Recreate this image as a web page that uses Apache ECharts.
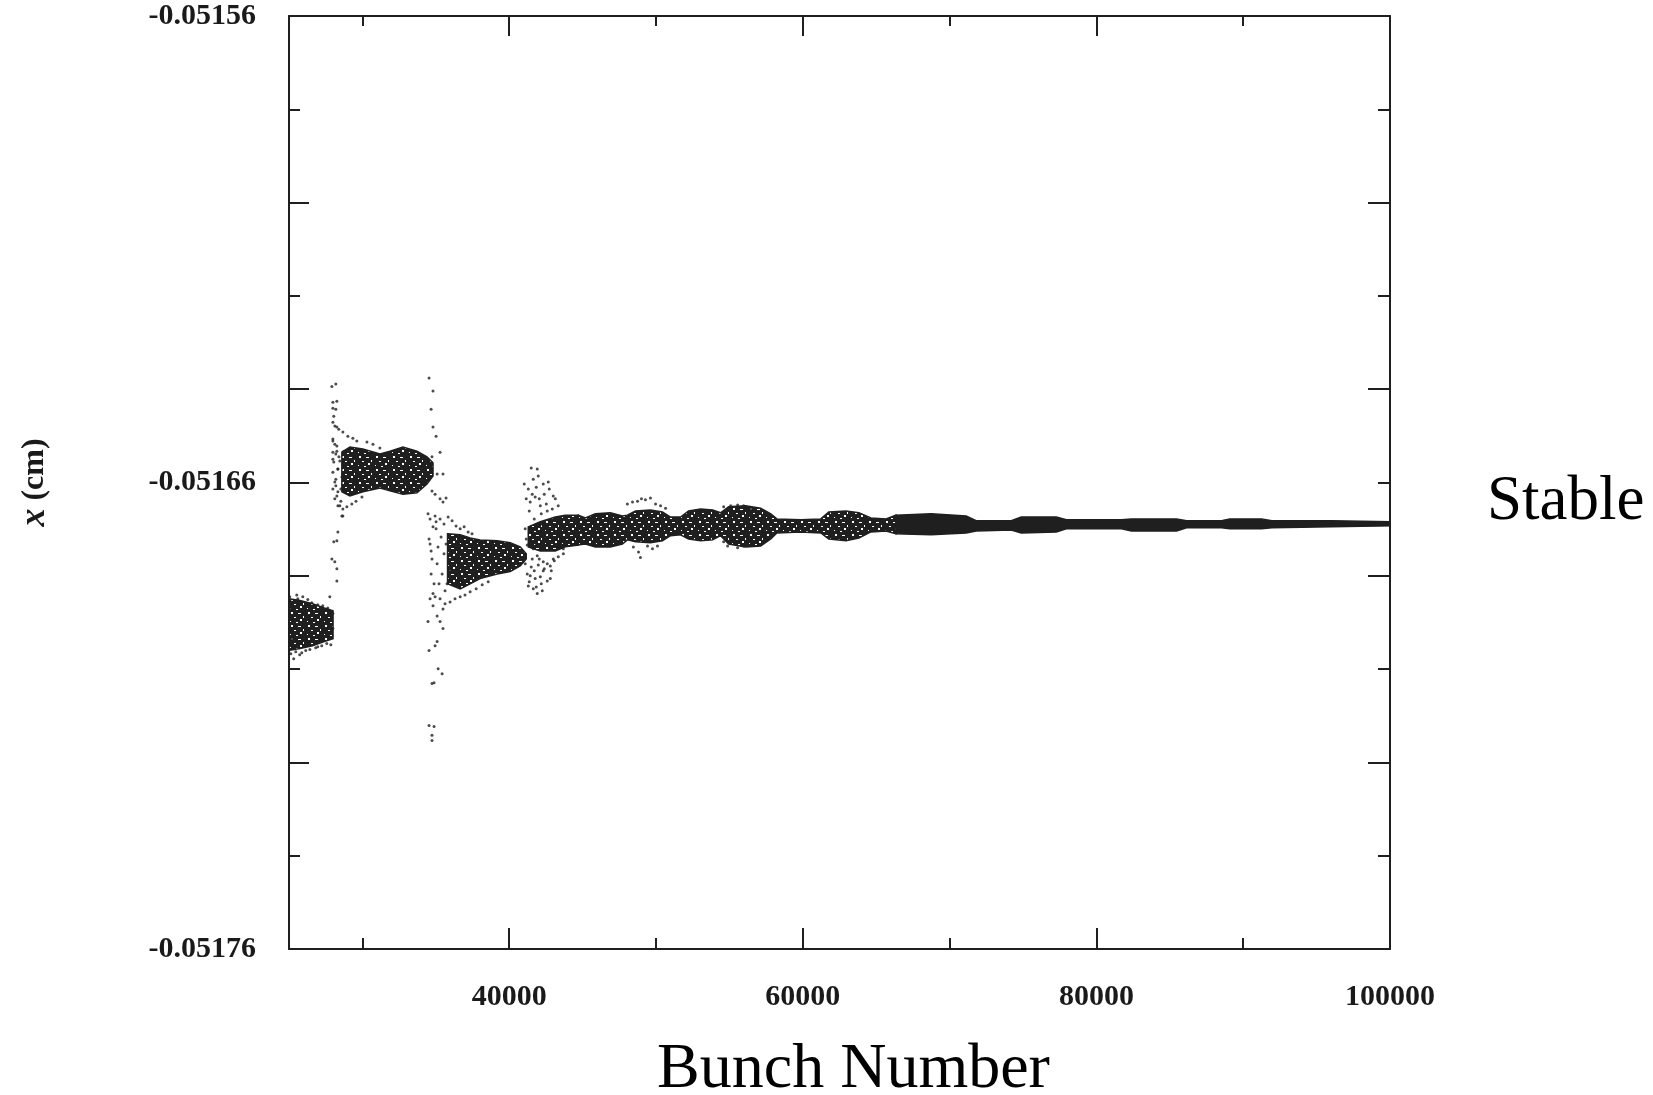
<!DOCTYPE html>
<html>
<head>
<meta charset="utf-8">
<script src="https://cdn.jsdelivr.net/npm/echarts@6/dist/echarts.min.js"></script>
<style>
html,body{margin:0;padding:0;background:#fff;}
#chart{width:1653px;height:1095px;}
</style>
</head>
<body>
<div id="chart"></div>
<script>
// ---- axis ticks / labels ----
const bunchLabels = [40000, 60000, 80000, 100000];
const bunchTicksMajor = [40000, 60000, 80000];
const bunchTicksMinor = [30000, 50000, 70000, 90000];
const posLabels = [-0.05176, -0.05166, -0.05156];
const posTicksMajorLeft = [-0.05172, -0.05168, -0.05166, -0.05164, -0.05160];
const posTicksMinorLeft = [-0.05174, -0.05170, -0.05162, -0.05158];
const posTicksMajorRight = [-0.05172, -0.05168, -0.05164, -0.05160];
const posTicksMinorRight = [-0.05174, -0.05170, -0.05166, -0.05162, -0.05158];

// ---- dense envelopes of the scatter: [bunch, x low (cm), x high (cm)] ----
const bandEarly = [
  [25000, -0.0516960, -0.0516849], [25750, -0.0516956, -0.0516853], [26600, -0.0516950, -0.0516860],
  [27400, -0.0516941, -0.0516869], [28000, -0.0516935, -0.0516875]
];
const bandUpper = [
  [28600, -0.0516620, -0.0516535], [29150, -0.0516629, -0.0516524], [30030, -0.0516620, -0.0516528],
  [31200, -0.0516612, -0.0516539], [31880, -0.0516618, -0.0516533], [32760, -0.0516625, -0.0516524],
  [33720, -0.0516622, -0.0516533], [34400, -0.0516603, -0.0516545], [34810, -0.0516586, -0.0516558]
];
const bandLower = [
  [35800, -0.0516817, -0.0516710], [36660, -0.0516828, -0.0516712], [37340, -0.0516817, -0.0516719],
  [38020, -0.0516806, -0.0516723], [39180, -0.0516796, -0.0516725], [40070, -0.0516791, -0.0516729],
  [40750, -0.0516779, -0.0516738], [41160, -0.0516764, -0.0516753]
];
const bandBurst = [
  [41300, -0.0516738, -0.0516695], [42120, -0.0516747, -0.0516684], [43140, -0.0516747, -0.0516674],
  [43820, -0.0516738, -0.0516670], [44710, -0.0516734, -0.0516670]
];
const bandSettling = [
  [44710, -0.0516734, -0.0516670], [45190, -0.0516732, -0.0516676], [45870, -0.0516738, -0.0516667],
  [46890, -0.0516738, -0.0516665], [47710, -0.0516732, -0.0516672], [48050, -0.0516723, -0.0516670],
  [48600, -0.0516727, -0.0516661], [49620, -0.0516729, -0.0516659], [50440, -0.0516725, -0.0516663],
  [50990, -0.0516714, -0.0516674], [51670, -0.0516712, -0.0516674], [52220, -0.0516721, -0.0516661],
  [53040, -0.0516725, -0.0516657], [53860, -0.0516723, -0.0516659], [54400, -0.0516714, -0.0516665],
  [54950, -0.0516732, -0.0516652], [56110, -0.0516738, -0.0516650], [57130, -0.0516736, -0.0516655],
  [57820, -0.0516721, -0.0516667], [58230, -0.0516708, -0.0516678], [59860, -0.0516706, -0.0516680],
  [61230, -0.0516708, -0.0516678], [61770, -0.0516721, -0.0516663], [62940, -0.0516725, -0.0516661],
  [63820, -0.0516719, -0.0516665], [64640, -0.0516706, -0.0516676], [65670, -0.0516704, -0.0516678],
  [66350, -0.0516710, -0.0516670]
];
const bandStable = [
  [66350, -0.0516710, -0.0516670], [68740, -0.0516712, -0.0516667], [71130, -0.0516708, -0.0516672],
  [71810, -0.0516704, -0.0516682], [74200, -0.0516702, -0.0516682], [74880, -0.0516708, -0.0516674],
  [77270, -0.0516706, -0.0516674], [77950, -0.0516699, -0.0516680], [81710, -0.0516699, -0.0516680],
  [82390, -0.0516704, -0.0516678], [85460, -0.0516704, -0.0516678], [86140, -0.0516697, -0.0516682],
  [88530, -0.0516697, -0.0516682], [89080, -0.0516699, -0.0516678], [91260, -0.0516699, -0.0516678],
  [91950, -0.0516697, -0.0516682], [96040, -0.0516695, -0.0516682], [100000, -0.0516693, -0.0516684]
];

// ---- individual scattered points: [bunch, x (cm)] ----
const dotsEarly = [
  [25050, -0.0516845], [25190, -0.0516856], [25530, -0.0516841], [25120, -0.0516967], [25320, -0.0516978],
  [25460, -0.0516963], [25730, -0.0516969], [26140, -0.0516960], [26820, -0.0516954], [27780, -0.0516845],
  [27850, -0.0516948], [25050, -0.0516871], [25050, -0.0516913], [25190, -0.0516935], [25600, -0.0516849],
  [25940, -0.0516845], [26280, -0.0516851], [26550, -0.0516858], [26960, -0.0516862], [27300, -0.0516864],
  [27640, -0.0516869], [25870, -0.0516965], [26420, -0.0516958], [26960, -0.0516952], [27230, -0.0516950],
  [27570, -0.0516945], [27990, -0.0516881], [27990, -0.0516913]
];
const dotsJump1 = [
  [27920, -0.0516394], [28190, -0.0516389], [27990, -0.0516428], [28260, -0.0516426], [27990, -0.0516441],
  [28190, -0.0516443], [28050, -0.0516458], [27990, -0.0516471], [28260, -0.0516481], [27990, -0.0516507],
  [28120, -0.0516518], [28260, -0.0516533], [27990, -0.0516550], [28330, -0.0516571], [28120, -0.0516599],
  [28330, -0.0516620], [28120, -0.0516635], [28460, -0.0516650], [28670, -0.0516672], [28330, -0.0516706],
  [28260, -0.0516725], [28050, -0.0516727], [27920, -0.0516764], [28120, -0.0516770], [28260, -0.0516785],
  [28260, -0.0516811]
];
const dotsUpper = [
  [28120, -0.0516479], [28390, -0.0516486], [28670, -0.0516492], [29010, -0.0516501], [29350, -0.0516505],
  [29620, -0.0516511], [27990, -0.0516511], [28260, -0.0516522], [27990, -0.0516535], [28050, -0.0516556],
  [27990, -0.0516578], [28190, -0.0516593], [27990, -0.0516614], [28260, -0.0516629], [28530, -0.0516640],
  [28330, -0.0516650], [28670, -0.0516657], [28600, -0.0516672], [28940, -0.0516652], [29280, -0.0516646],
  [29560, -0.0516640], [29970, -0.0516631], [30310, -0.0516513], [30720, -0.0516518], [31190, -0.0516526],
  [28190, -0.0516539], [28460, -0.0516554], [28330, -0.0516571], [28600, -0.0516588], [28190, -0.0516607],
  [28740, -0.0516533], [28810, -0.0516567], [28530, -0.0516614], [28870, -0.0516603], [28400, -0.0516545]
];
const dotsJump2 = [
  [34540, -0.0516376], [34810, -0.0516404], [34680, -0.0516443], [34810, -0.0516481], [35020, -0.0516501],
  [35290, -0.0516535], [34740, -0.0516545], [35090, -0.0516582], [35490, -0.0516582], [34740, -0.0516618],
  [34950, -0.0516625], [35290, -0.0516635], [35490, -0.0516642], [35700, -0.0516633], [34470, -0.0516667],
  [34950, -0.0516672], [34610, -0.0516849], [34810, -0.0516864], [35490, -0.0516871], [35090, -0.0516886],
  [34470, -0.0516898], [35290, -0.0516898], [35490, -0.0516913], [35090, -0.0516941], [34950, -0.0516950],
  [34540, -0.0516960], [35160, -0.0516999], [35430, -0.0517010], [34740, -0.0517031], [34880, -0.0517029],
  [34540, -0.0517121], [34880, -0.0517123], [34740, -0.0517142], [34740, -0.0517153]
];
const dotsLower = [
  [34610, -0.0516678], [34810, -0.0516695], [35020, -0.0516684], [35290, -0.0516678], [35560, -0.0516689],
  [35840, -0.0516674], [36110, -0.0516682], [36380, -0.0516693], [36660, -0.0516699], [36930, -0.0516695],
  [37200, -0.0516706], [37470, -0.0516710], [34610, -0.0516732], [34740, -0.0516764], [34680, -0.0516796],
  [34880, -0.0516817], [34810, -0.0516838], [35290, -0.0516849], [35630, -0.0516860], [35970, -0.0516856],
  [36310, -0.0516849], [36660, -0.0516845], [36990, -0.0516841], [37340, -0.0516834], [37750, -0.0516828],
  [38160, -0.0516819], [38570, -0.0516813], [34540, -0.0516721], [34680, -0.0516747], [35020, -0.0516699],
  [35150, -0.0516738], [35360, -0.0516717], [35560, -0.0516753], [35700, -0.0516732], [35900, -0.0516768],
  [36110, -0.0516721], [35090, -0.0516774], [35430, -0.0516796], [35770, -0.0516817], [35970, -0.0516789],
  [35630, -0.0516832], [35220, -0.0516817], [34950, -0.0516845], [36180, -0.0516806]
];
const dotsBurst = [
  [41500, -0.0516569], [41910, -0.0516571], [41640, -0.0516593], [41980, -0.0516586], [41300, -0.0516614],
  [42320, -0.0516603], [42660, -0.0516599], [43000, -0.0516629], [43340, -0.0516650], [41430, -0.0516642],
  [41770, -0.0516631], [42120, -0.0516650], [42590, -0.0516661], [41230, -0.0516734], [41570, -0.0516764],
  [41910, -0.0516757], [42320, -0.0516770], [42800, -0.0516779], [43000, -0.0516764], [41430, -0.0516800],
  [41770, -0.0516806], [42120, -0.0516802], [42590, -0.0516811], [41640, -0.0516828], [41910, -0.0516838],
  [41300, -0.0516822], [42320, -0.0516789], [42800, -0.0516806], [41090, -0.0516699], [41160, -0.0516721],
  [42180, -0.0516689], [42460, -0.0516710], [41840, -0.0516732],
  [41024, -0.0516603], [41160, -0.0516635], [41365, -0.0516661], [41570, -0.0516625], [41707, -0.0516678],
  [41843, -0.0516610], [42048, -0.0516635], [42184, -0.0516667], [42389, -0.0516625], [42526, -0.0516646],
  [42730, -0.0516614], [42935, -0.0516657], [43140, -0.0516635], [43276, -0.0516678], [41092, -0.0516774],
  [41229, -0.0516796], [41502, -0.0516781], [41707, -0.0516789], [41980, -0.0516777], [42184, -0.0516817],
  [42389, -0.0516785], [42594, -0.0516774], [42867, -0.0516789], [43072, -0.0516768], [43345, -0.0516759],
  [41365, -0.0516813], [41843, -0.0516824], [42253, -0.0516832], [42048, -0.0516764], [41638, -0.0516742]
];
const dotsSettling = [
  [48050, -0.0516646], [48400, -0.0516642], [48740, -0.0516640], [49010, -0.0516635], [49280, -0.0516637],
  [49620, -0.0516633], [49970, -0.0516646], [50310, -0.0516650], [50650, -0.0516655], [48460, -0.0516738],
  [48810, -0.0516749], [48940, -0.0516761], [49420, -0.0516736], [49760, -0.0516742], [50100, -0.0516736],
  [54610, -0.0516652], [55090, -0.0516650], [55560, -0.0516648], [55970, -0.0516650], [56450, -0.0516657],
  [54610, -0.0516727], [54880, -0.0516736], [55560, -0.0516740], [55970, -0.0516736], [56450, -0.0516723],
  [43620, -0.0516721], [43690, -0.0516742], [43690, -0.0516753]
];

const bands = [bandEarly, bandUpper, bandLower, bandBurst, bandSettling, bandStable];
const dots = [].concat(dotsEarly, dotsJump1, dotsUpper, dotsJump2, dotsLower, dotsBurst, dotsSettling);

const INK = '#1f1f1f';
const tickFont = { fontFamily: 'Liberation Serif', fontWeight: 'bold', fontSize: 30, color: '#1a1a1a' };

// irregular speckle texture for the dense clouds (a fill style only)
const tile = document.createElement('canvas');
tile.width = 17; tile.height = 13;
(function () {
  const c = tile.getContext('2d');
  c.fillStyle = '#1f1f1f'; c.fillRect(0, 0, 17, 13);
  c.fillStyle = '#ffffff';
  c.fillRect(2, 1, 2, 2); c.fillRect(9, 2, 3, 1); c.fillRect(14, 5, 1, 2);
  c.fillRect(5, 6, 2, 1); c.fillRect(11, 8, 2, 2); c.fillRect(1, 10, 1, 1); c.fillRect(7, 11, 2, 1);
})();
const speckle = { image: tile, repeat: 'repeat' };

function xAxisDef(pos, ticks, len, opts) {
  return Object.assign({
    type: 'value', position: pos, min: 25000, max: 100000,
    axisLine: { show: false },
    axisTick: { show: true, inside: true, length: len, customValues: ticks, lineStyle: { color: INK, width: 2 } },
    axisLabel: { show: false },
    splitLine: { show: false }
  }, opts || {});
}
function yAxisDef(pos, ticks, len, opts) {
  return Object.assign({
    type: 'value', position: pos, min: -0.05176, max: -0.05156, interval: 0.00002,
    axisLine: { show: false },
    axisTick: { show: true, inside: true, length: len, customValues: ticks, lineStyle: { color: INK, width: 2 } },
    axisLabel: { show: false },
    splitLine: { show: false }
  }, opts || {});
}

const chart = echarts.init(document.getElementById('chart'));
chart.setOption({
  animation: false,
  backgroundColor: '#ffffff',
  grid: { left: 289, right: 263, top: 16, bottom: 146, outerBoundsMode: 'none', containLabel: false },
  xAxis: [
    xAxisDef('bottom', bunchTicksMajor, 21, {
      axisLine: { show: true, lineStyle: { color: INK, width: 2 } },
      axisLabel: Object.assign({ show: true, margin: 33, customValues: bunchLabels, formatter: v => String(v) }, tickFont),
      name: 'Bunch Number', nameLocation: 'middle', nameGap: 89,
      nameTextStyle: { fontFamily: 'Liberation Serif', fontSize: 64, color: '#000', padding: [0, 0, 0, 28] }
    }),
    xAxisDef('bottom', bunchTicksMinor, 11),
    xAxisDef('top', bunchTicksMajor, 20, { axisLine: { show: true, lineStyle: { color: INK, width: 2 } } }),
    xAxisDef('top', bunchTicksMinor, 10)
  ],
  yAxis: [
    yAxisDef('left', posTicksMajorLeft, 20, {
      axisLine: { show: true, lineStyle: { color: INK, width: 2 } },
      axisLabel: Object.assign({ show: true, margin: 33, customValues: posLabels, padding: [10, 0, 0, 0],
        formatter: v => v.toFixed(5) }, tickFont),
      name: '{i|x} (cm)', nameLocation: 'middle', nameGap: 236, nameRotate: 90,
      nameTextStyle: { fontFamily: 'Liberation Serif', fontWeight: 'bold', fontSize: 32, color: '#1a1a1a',
        rich: { i: { fontFamily: 'Liberation Serif', fontStyle: 'italic', fontWeight: 'bold', fontSize: 36, color: '#1a1a1a' } } }
    }),
    yAxisDef('left', posTicksMinorLeft, 11),
    yAxisDef('right', posTicksMajorRight, 22, { axisLine: { show: true, lineStyle: { color: INK, width: 2 } } }),
    yAxisDef('right', posTicksMinorRight, 12)
  ],
  series: [
    {
      type: 'custom', xAxisIndex: 0, yAxisIndex: 0,
      data: bands.map(b => [b[0][0], b[0][2]]),
      renderItem: function (params, api) {
        const band = bands[params.dataIndex];
        const top = band.map(r => api.coord([r[0], r[2]]));
        const bottom = band.slice().reverse().map(r => api.coord([r[0], r[1]]));
        const solid = band === bandStable;
        return { type: 'polygon', shape: { points: top.concat(bottom) },
          style: { fill: solid ? '#1f1f1f' : speckle, stroke: '#1f1f1f', lineWidth: 1.5 } };
      },
      z: 2
    },
    {
      type: 'scatter', xAxisIndex: 0, yAxisIndex: 0,
      data: dots, symbol: 'circle', symbolSize: 3,
      itemStyle: { color: INK }, z: 3
    }
  ],
  graphic: [
    { type: 'text', left: 1487, top: 471,
      style: { text: 'Stable', fontFamily: 'Liberation Serif', fontSize: 63, fill: '#000' } }
  ]
});
</script>
</body>
</html>
